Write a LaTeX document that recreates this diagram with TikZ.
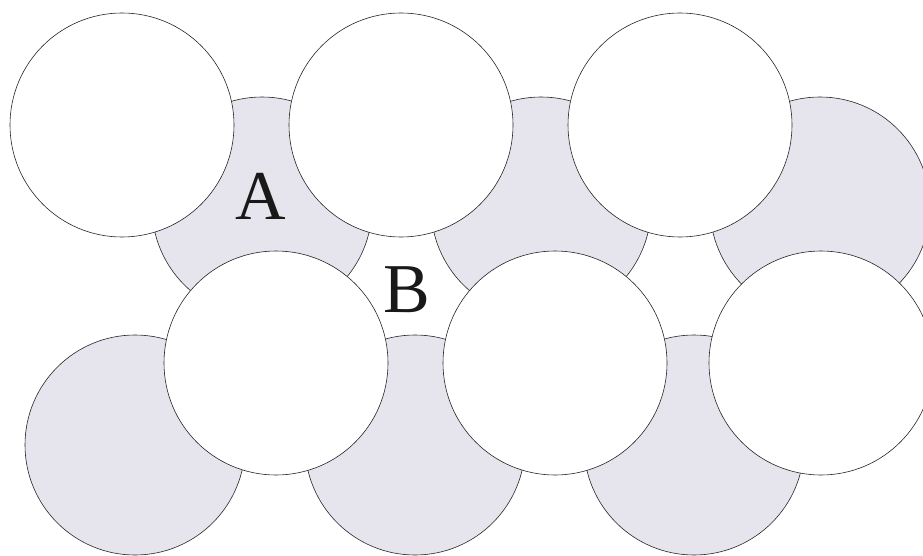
\documentclass[tikz,border=0pt]{standalone}
\usepackage{fontspec}
\setmainfont{Liberation Serif}
\definecolor{ballgrey}{RGB}{230,228,236}
\tikzset{
  ball/.style={circle, draw=black!85, line width=0.6pt, inner sep=0pt, outer sep=0pt},
  greyball/.style={ball, fill=ballgrey, minimum size=220pt},
  whiteball/.style={ball, fill=white, minimum size=224pt},
  site/.style={font=\fontsize{70}{70}\selectfont, text=black!90, inner sep=0pt}
}
\begin{document}
\begin{tikzpicture}[x=1pt,y=-1pt]
\useasboundingbox (0,0) rectangle (923,556);
\clip (0,0) rectangle (923,556);
% back layer (grey)
\node[greyball] (g1) at (262,207) {};
\node[greyball] (g2) at (541,207) {};
\node[greyball] (g3) at (820,207) {};
\node[greyball] (g4) at (135,445) {};
\node[greyball] (g5) at (415,445) {};
\node[greyball] (g6) at (694,445) {};
% front layer (white)
\node[whiteball] (w1) at (122,125) {};
\node[whiteball] (w2) at (401,125) {};
\node[whiteball] (w3) at (680,125) {};
\node[whiteball] (w4) at (276,363) {};
\node[whiteball] (w5) at (555,363) {};
\node[whiteball] (w6) at (821,363) {};
% labels
\node[site] (A) at (261,196) {A};
\node[site] (B) at (407,290) {B};
\end{tikzpicture}
\end{document}
